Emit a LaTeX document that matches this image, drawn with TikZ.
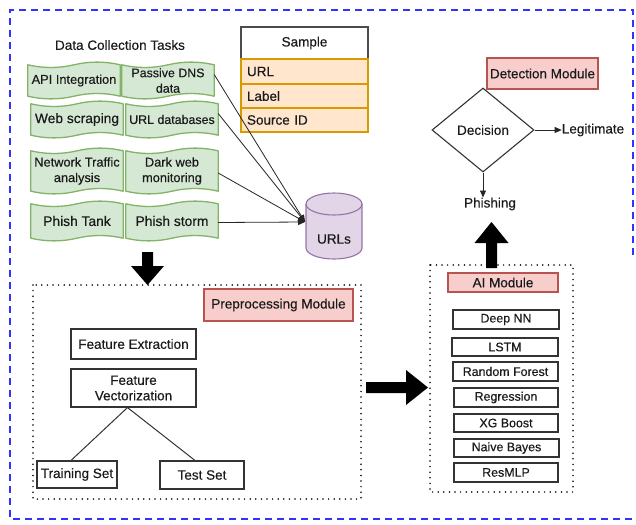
\documentclass[tikz,border=0pt]{standalone}
\usepackage{fontspec}
\setmainfont{Liberation Sans}[FakeBold=0.35]
\usetikzlibrary{arrows.meta,shapes.geometric,calc}
\definecolor{tapefill}{HTML}{D5E8D4}
\definecolor{tapedraw}{HTML}{82B366}
\definecolor{redfill}{HTML}{F8CECC}
\definecolor{reddraw}{HTML}{B85450}
\definecolor{orfill}{HTML}{FFE6CC}
\definecolor{ordraw}{HTML}{D79B00}
\definecolor{cylfill}{HTML}{E1D5E7}
\definecolor{cyldraw}{HTML}{9673A6}
\definecolor{bordblue}{HTML}{3333FF}
\definecolor{boxdraw}{HTML}{333333}
\definecolor{txt}{HTML}{1A1A1A}
\pgfdeclarelayer{background}
\pgfsetlayers{background,main}
\newcommand\fs[1]{\fontsize{#1}{15.5}\selectfont}
\newcommand\boxnode[6]{\node[#6, minimum width={#4-#2}, minimum height={#5-#3}] (#1) at ({(#2+#4)/2},{(#3+#5)/2})}
\newcommand\tapeout[1]{%
 \path[tapesty] let \p1=(#1.north west), \p2=(#1.south east),
   \n1={(\x2-\x1)/6}, \n2={(\x1+\x2)/2}, \n3={6} in
   (\x1,\y1-0.5*\n3)
   .. controls (\x1+\n1,\y1-1.1*\n3) and (\n2-\n1,\y1-1.1*\n3) .. (\n2,\y1-0.5*\n3)
   .. controls (\n2+\n1,\y1+0.1*\n3) and (\x2-\n1,\y1+0.1*\n3) .. (\x2,\y1-0.5*\n3)
   -- (\x2,\y2+0.5*\n3)
   .. controls (\x2-\n1,\y2+1.1*\n3) and (\n2+\n1,\y2+1.1*\n3) .. (\n2,\y2+0.5*\n3)
   .. controls (\n2-\n1,\y2-0.1*\n3) and (\x1+\n1,\y2-0.1*\n3) .. (\x1,\y2+0.5*\n3)
   -- cycle;}
\begin{document}
\begin{tikzpicture}[x=1pt,y=-1pt,
  every node/.style={inner sep=0pt, align=center, font=\fs{13.5}, text=txt},
  tape/.style={font=\fs{12.8}},
  tapesty/.style={fill=tapefill, draw=tapedraw, line width=1.3pt, line join=round},
  plainbox/.style={draw=boxdraw, fill=white, line width=1.1pt},
  algbox/.style={draw=boxdraw, fill=white, line width=1.4pt, font=\fs{12.4}},
  redbox/.style={draw=reddraw, fill=redfill, line width=1.1pt},
  headbox/.style={draw=black!70, fill=white, line width=1.1pt},
  rowbox/.style={draw=ordraw, fill=orfill, line width=1.1pt, text width=115pt, inner xsep=6pt, align=left},
  dotbox/.style={draw=black, line width=1.7pt, line cap=round, dash pattern=on 0pt off 5.6pt},
  blueborder/.style={draw=bordblue, line width=1.8pt, dash pattern=on 7pt off 5pt},
  thinarr/.style={draw=black!85, line width=0.8pt, -{Triangle[length=7pt,width=6pt]}},
  treeline/.style={draw=black!80, line width=1pt},
  fatarr/.style={fill=black},
  cylsty/.style={fill=cylfill, draw=cyldraw, line width=1.1pt}]
\useasboundingbox (0,0) rectangle (636,524);

% outer border
\draw[blueborder] (633,255) -- (633,10) -- (10,10) -- (10,519) -- (633,519);

% data collection
\node (dct) at (120,45) {Data Collection Tasks};
\boxnode{api}{28}{62}{120}{99}{tape}{API Integration};
\boxnode{pdns}{122}{62}{214}{99}{tape,font=\fs{12.4}}{Passive DNS\\data};
\boxnode{web}{31}{101}{123}{138}{tape,font=\fs{13.8}}{Web scraping};
\boxnode{urldb}{126}{101}{218}{138}{tape,font=\fs{12.4}}{URL databases};
\boxnode{net}{31}{148}{123}{194}{tape}{Network Traffic\\analysis};
\boxnode{dark}{126}{148}{218}{194}{tape}{Dark web\\monitoring};
\boxnode{ptank}{31}{201}{123}{241}{tape,font=\fs{13.8}}{Phish Tank};
\boxnode{pstorm}{126}{201}{218}{241}{tape,font=\fs{13.8}}{Phish storm};
\begin{pgfonlayer}{background}
\foreach \nm in {api,pdns,web,urldb,net,dark,ptank,pstorm} {\tapeout{\nm}}
\end{pgfonlayer}

% sample table
\boxnode{samp}{241}{27}{368}{59}{headbox}{Sample};
\boxnode{surl}{241}{59}{368}{84}{rowbox}{URL};
\boxnode{slab}{241}{84}{368}{108}{rowbox}{Label};
\boxnode{ssrc}{241}{108}{368}{132}{rowbox}{Source ID};

% cylinder
\path[cylsty] (306,204) -- (306,248) arc[start angle=180,end angle=360,x radius=28pt,y radius=11pt]
  -- (362,204) arc[start angle=0,end angle=180,x radius=28pt,y radius=11pt] -- cycle;
\draw[cyldraw, line width=1.1pt] (306,204) arc[start angle=180,end angle=360,x radius=28pt,y radius=11pt];
\node (urls) at (334,239) {URLs};
\coordinate (urlsin) at (305,222);

\draw[thinarr] ([yshift=6pt]pdns.east) -- (urlsin);
\draw[thinarr] ([yshift=6pt]urldb.east) -- (urlsin);
\draw[thinarr] ([yshift=-2pt]dark.east) -- (urlsin);
\draw[thinarr] ([yshift=-1.5pt]pstorm.east) -- (urlsin);

% fat arrows
\fill[fatarr] (142,252) -- (153,252) -- (153,266) -- (164,266) -- (147.5,285) -- (131,266) -- (142,266) -- cycle;
\fill[fatarr] (366,382) -- (406,382) -- (406,370) -- (428,387.5) -- (406,405) -- (406,393) -- (366,393) -- cycle;
\fill[fatarr] (486,268) -- (486,243) -- (474.5,243) -- (491.5,222) -- (508.5,243) -- (497,243) -- (497,268) -- cycle;

% preprocessing module
\draw[dotbox] (33,285) rectangle (361,499);
\boxnode{prep}{204}{289}{353}{321}{redbox}{Preprocessing Module};
\boxnode{fe}{71}{329}{196}{359}{plainbox}{Feature Extraction};
\boxnode{fv}{71}{369}{196}{407}{plainbox}{Feature\\Vectorization};
\boxnode{train}{37}{461}{117}{488}{plainbox}{Training Set};
\boxnode{test}{160}{461}{244}{489}{plainbox}{Test Set};
\draw[treeline] ([xshift=-6pt]fv.south) -- ([xshift=-6pt]train.north);
\draw[treeline] ([xshift=-6pt]fv.south) -- ([xshift=-7pt]test.north);

% AI module
\draw[dotbox] (430,265) rectangle (573,492);
\boxnode{aimod}{448}{273}{558}{292}{redbox}{AI Module};
\boxnode{dnn}{453}{310}{559}{329}{algbox}{Deep NN};
\boxnode{lstm}{452}{338}{558}{356}{algbox}{LSTM};
\boxnode{rf}{453}{362}{558}{381}{algbox}{Random Forest};
\boxnode{reg}{454}{388}{558}{407}{algbox}{Regression};
\boxnode{xgb}{454}{414}{558}{432}{algbox}{XG Boost};
\boxnode{nb}{454}{439}{559}{457}{algbox}{Naive Bayes};
\boxnode{resmlp}{454}{463}{558}{482}{algbox}{ResMLP};

% detection module
\boxnode{detm}{487}{58}{598}{89}{redbox}{Detection Module};
\node[diamond, draw=boxdraw, line width=1.1pt, aspect=1.2, minimum width=102, minimum height=84] (dec) at (483,130) {Decision};
\node (legit) at (593,130) {Legitimate};
\node (phish) at (490,204) {Phishing};
\draw[thinarr] (dec.east) -- (legit.west);
\draw[thinarr] (dec.south) -- (dec.south |- phish.north);
\end{tikzpicture}
\end{document}
